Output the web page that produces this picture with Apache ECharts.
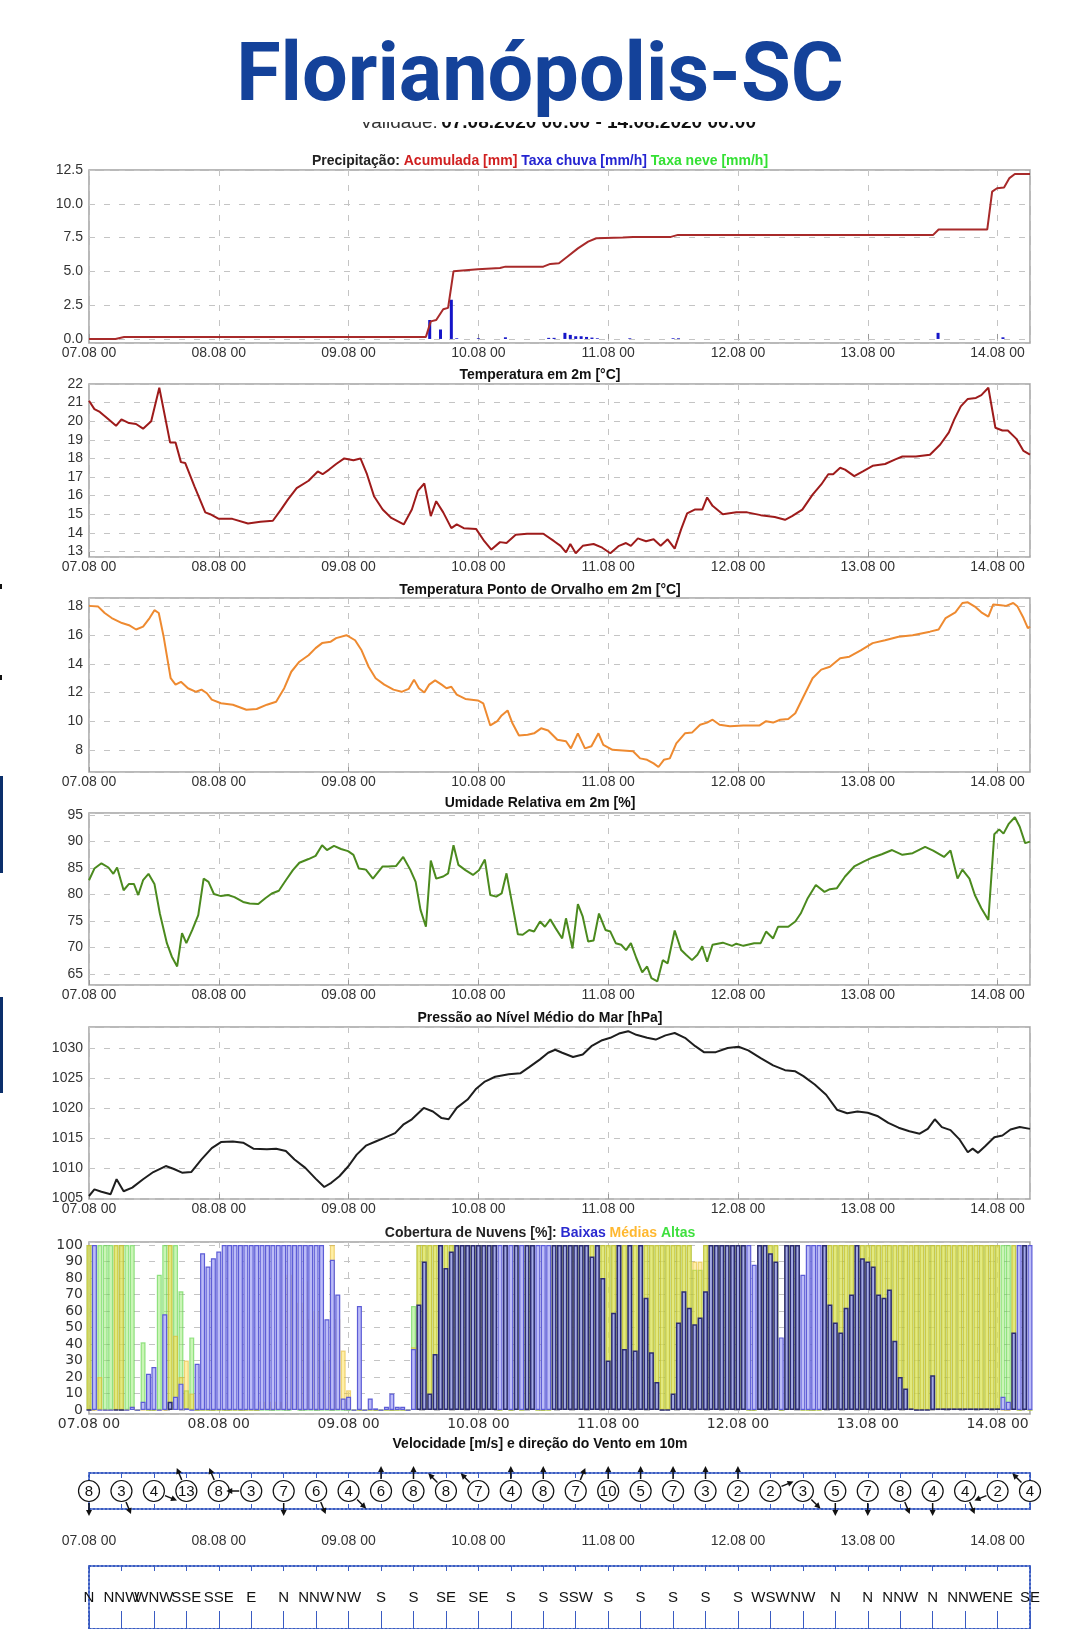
<!DOCTYPE html>
<html>
<head>
<meta charset="utf-8">
<script src="https://cdn.jsdelivr.net/npm/echarts@6/dist/echarts.min.js"></script>
<style>
html,body{margin:0;padding:0;background:#fff;}
#chart{width:1080px;height:1629px;}
</style>
</head>
<body>
<div id="chart"></div>
<script>
// ---- data (hours since 07.08 00) ----
var accPrecip = [[0,0],[4.9,0],[6.5,0.15],[62.3,0.15],[63.2,1.3],[64.2,1.4],[65.5,2.2],[66.4,2.3],[67.4,5.0],[71.9,5.15],[76,5.25],[77,5.35],[84,5.35],[85.3,5.55],[86.9,5.6],[88.5,6.1],[90.4,6.7],[92.3,7.2],[93.8,7.45],[98.7,7.5],[100.6,7.55],[107.6,7.55],[108.9,7.7],[156.1,7.7],[157.1,8.1],[166.1,8.1],[167,10.9],[167.9,11.15],[169.2,11.2],[170.2,11.9],[171.2,12.2],[174,12.2]];
var rainRate = [[63,1.4],[65,0.7],[67,2.9],[68,0.05],[72,0.05],[77,0.12],[85,0.08],[86,0.08],[88,0.45],[89,0.3],[90,0.2],[91,0.2],[92,0.15],[93,0.1],[94,0.05],[100,0.05],[108,0.05],[109,0.05],[157,0.45],[169,0.12]];

var temp2m = [[0,21.1],[1,20.65],[2,20.5],[3.6,20.1],[5,19.75],[6,20.1],[7.4,19.9],[8.7,19.85],[10,19.6],[11.5,20.0],[13,21.8],[13.3,21.9],[15,18.85],[16,18.85],[17,17.8],[17.8,17.75],[19.5,16.5],[21.5,15.1],[22.4,15.0],[24,14.75],[26.5,14.75],[29.4,14.5],[31.7,14.6],[34,14.65],[35.5,15.25],[36.8,15.8],[38.4,16.4],[40.6,16.8],[42.3,17.3],[43.2,17.15],[44.4,17.4],[45.7,17.7],[47.2,18.0],[48.9,17.9],[50.2,18.0],[51.4,17.15],[52.7,15.97],[54.3,15.25],[55.9,14.8],[58.2,14.45],[59.7,15.25],[60.8,16.25],[62,16.65],[63.2,14.9],[64.2,15.7],[65.5,15.1],[67,14.25],[68,14.45],[69.3,14.25],[71.6,14.2],[73.1,13.55],[74.4,13.1],[76,13.5],[77.2,13.45],[78.9,13.9],[81,13.95],[84,13.95],[86,13.55],[87.2,13.3],[88.2,12.95],[89,13.4],[90,12.9],[91.3,13.3],[93.3,13.4],[94.9,13.2],[96.4,12.9],[98,13.3],[99.3,13.45],[100.2,13.3],[101.5,13.7],[103,13.55],[104.4,13.65],[105.7,13.3],[107,13.65],[108.3,13.15],[109.5,14.2],[110.6,15.05],[112,15.25],[113.4,15.25],[114.3,15.9],[115.3,15.45],[117.2,15.0],[119.7,15.1],[121.7,15.1],[124.2,14.95],[126.8,14.85],[128.7,14.7],[130,14.9],[131.9,15.25],[133.8,16.05],[135.4,16.6],[136.7,17.15],[137.6,17.15],[138.9,17.5],[139.8,17.4],[141.5,17.05],[143.1,17.3],[144.9,17.6],[147.2,17.7],[149.1,17.95],[150.4,18.1],[152.9,18.1],[155.5,18.2],[157.4,18.75],[159,19.4],[160,20.1],[161.2,20.8],[162.5,21.2],[164,21.25],[165,21.4],[166.3,21.8],[167.6,19.65],[168.9,19.5],[169.9,19.5],[171.5,19.05],[172.8,18.4],[174,18.2]];

var dewPoint = [[0,18.05],[1.7,18.0],[2.9,17.55],[4.2,17.2],[6.1,16.85],[7.4,16.7],[8.7,16.4],[10,16.6],[11.2,17.2],[12.1,17.75],[12.9,17.55],[13.8,15.9],[15.1,13.0],[16,12.55],[17,12.75],[18.3,12.3],[19.8,12.05],[20.8,12.2],[21.8,11.95],[22.7,11.5],[24.4,11.25],[26.6,11.15],[29.1,10.8],[31,10.85],[32.9,11.15],[34.6,11.35],[36.1,12.3],[37.4,13.45],[38.9,14.15],[40.6,14.6],[41.9,15.1],[43.1,15.45],[44.7,15.55],[45.7,15.8],[47.6,16.0],[49.2,15.65],[50.4,14.95],[51.7,13.8],[53,13.0],[54.6,12.55],[56.3,12.2],[57.8,12.05],[59.1,12.25],[60.1,12.9],[61,12.3],[62,12.0],[62.9,12.55],[64,12.85],[65.2,12.55],[66.1,12.3],[67,12.4],[68,11.85],[69.6,11.55],[71.9,11.45],[72.9,11.25],[74.2,9.7],[75.5,10.0],[76.3,10.4],[77.4,10.75],[78.3,9.85],[79.5,9.0],[81.1,9.05],[82.3,9.15],[83.6,9.5],[84.9,9.35],[86.6,8.7],[88.2,8.6],[89.1,8.1],[90.4,9.15],[91.7,8.1],[92.9,8.25],[94.2,9.15],[95.1,8.35],[96.8,8.0],[98.7,7.95],[100.6,7.9],[101.9,7.4],[103.2,7.3],[104.4,7.05],[105.3,6.8],[106.3,7.3],[107.4,7.4],[108.6,8.45],[110.2,9.15],[111.5,9.2],[113,9.75],[114.3,9.9],[115.3,10.1],[116.6,9.75],[118.5,9.65],[121,9.7],[124,9.7],[125.2,10.0],[126.5,9.9],[127.8,10.1],[129.3,10.15],[130.6,10.55],[132.1,11.7],[133.8,13.0],[135.4,13.6],[137,13.8],[138.9,14.4],[140.6,14.5],[142.7,14.95],[144.9,15.45],[147.2,15.65],[149.7,15.9],[152.3,16.0],[155.5,16.25],[157.1,16.4],[158.4,17.2],[160.2,17.6],[161.5,18.25],[162.5,18.3],[163.8,18.0],[165,17.6],[166.3,17.3],[167.2,18.15],[168.6,18.1],[169.6,18.05],[170.9,18.25],[171.7,18.0],[172.8,17.2],[173.6,16.5],[174,16.6]];

var humidity = [[0,82.7],[1,84.9],[2.3,85.9],[3.6,85.1],[4.5,83.9],[5.2,85.1],[6.4,80.8],[7.4,82.0],[8.3,82.0],[9.1,79.9],[10,82.7],[11,83.9],[12.1,82.0],[13.1,76.4],[14.4,70.8],[15.3,68.3],[16.3,66.4],[17.2,72.7],[18,70.8],[19.1,73.3],[20.2,76.1],[21.2,83.0],[22.1,82.4],[23.1,80.1],[24.4,79.7],[25.7,79.9],[26.9,79.5],[28.5,78.6],[29.7,78.3],[31.3,78.2],[32.6,79.3],[33.8,80.2],[35.1,80.7],[36.4,82.7],[37.7,84.6],[38.9,86.0],[40.6,86.7],[41.9,87.3],[43.1,89.3],[44,88.4],[45.3,89.2],[46.6,88.6],[47.9,88.2],[48.9,87.5],[49.9,84.9],[51.2,84.7],[52.5,83.0],[54.3,85.3],[55.3,85.3],[56.8,85.4],[58.1,87.1],[59.4,84.7],[60.4,82.4],[61.3,77.1],[62.3,73.9],[63.2,86.4],[64.2,83.0],[65.5,83.4],[66.4,84.0],[67.4,89.3],[68.3,85.6],[69.6,84.6],[71,83.7],[72.1,84.6],[73.2,86.6],[74.2,79.9],[75.3,79.6],[76.3,80.2],[77.2,84.0],[78.3,78.0],[79.3,72.5],[80.2,72.4],[81.4,73.3],[82.3,73.0],[83.4,74.9],[84.3,73.9],[85.3,75.3],[86.3,73.6],[87.5,71.7],[88.2,75.5],[89.4,69.8],[90.4,78.2],[91.3,75.8],[92.3,71.1],[93.3,71.3],[94.3,76.4],[95.5,73.3],[96.4,73.0],[97.4,70.8],[98.4,70.5],[99.3,69.5],[100.2,70.8],[101.2,68.0],[102.3,65.3],[103.2,66.4],[104,64.2],[105.1,63.6],[106.1,67.6],[107,67.0],[108.3,73.2],[109.5,69.5],[110.4,68.6],[111.5,67.6],[112.5,68.6],[113.4,70.2],[114.3,67.3],[115.3,70.5],[117.2,70.9],[118.9,70.3],[119.7,70.7],[121,70.3],[123,70.8],[124.2,70.8],[125.2,73.0],[126.5,71.7],[127.4,73.9],[129.3,73.9],[130.6,74.9],[131.6,76.4],[132.9,79.3],[134.4,81.8],[136,80.5],[137,81.0],[138.3,81.2],[139.8,83.4],[141.5,85.3],[143.4,86.3],[144.9,87.0],[146.6,87.6],[148.5,88.4],[150.4,87.5],[152.3,87.8],[154.6,89.0],[156.1,88.3],[158.1,87.1],[159.3,88.3],[160.6,83.0],[161.5,84.7],[162.8,83.0],[163.8,79.9],[165,77.4],[166.3,75.2],[167.4,91.4],[168.3,92.3],[169.1,91.5],[170.1,93.4],[171.2,94.6],[172.1,92.8],[173.1,89.7],[174,90.0]];

var pressure = [[0,1005.3],[1,1006.4],[2.3,1006.0],[4,1005.6],[5.1,1008.1],[6.4,1006.1],[8,1006.7],[10,1008.1],[11.9,1009.3],[14.2,1010.3],[15.7,1009.8],[17.2,1009.2],[18.9,1009.3],[20.8,1011.4],[22.7,1013.3],[24.4,1014.3],[26.6,1014.4],[28.5,1014.2],[30.4,1013.2],[32.9,1013.1],[34.6,1013.2],[36.4,1012.8],[38,1011.4],[40,1010.0],[41.9,1008.2],[43.5,1006.8],[44.8,1007.5],[46.3,1008.6],[48,1010.3],[49.5,1012.2],[51.2,1013.7],[53,1014.4],[54.6,1015.0],[56.6,1015.8],[58.1,1017.2],[59.7,1018.1],[61.9,1020.0],[63.6,1019.4],[65.2,1018.3],[66.5,1018.1],[68,1020.0],[70,1021.4],[71.6,1023.2],[73.2,1024.4],[75.1,1025.2],[77.6,1025.6],[79.8,1025.8],[81.4,1026.8],[83.4,1028.1],[84.9,1029.2],[86.2,1029.7],[87.5,1029.2],[89.5,1028.5],[91.3,1028.9],[92.9,1030.3],[94.9,1031.3],[96.4,1031.7],[98,1032.4],[99.7,1032.8],[101.2,1032.2],[103.2,1031.7],[104.8,1031.4],[106.6,1032.1],[108.3,1032.5],[110.2,1031.7],[112.1,1030.3],[113.7,1029.3],[115.9,1029.3],[118.1,1030.0],[120.1,1030.2],[121.9,1029.6],[124.2,1028.3],[126.5,1027.1],[128.7,1026.3],[130.6,1026.1],[132.1,1025.3],[134.2,1023.9],[136.3,1022.2],[138.3,1019.7],[140.2,1019.1],[142.1,1019.4],[144,1019.2],[145.9,1018.6],[147.8,1017.5],[149.7,1016.7],[151.7,1016.1],[153.6,1015.7],[155.1,1016.5],[156.4,1018.1],[157.7,1016.8],[159.3,1016.3],[161,1014.7],[162.5,1012.6],[163.4,1013.2],[164.4,1012.5],[165.7,1013.6],[167.4,1015.1],[168.9,1015.4],[170.4,1016.4],[172.1,1016.8],[174,1016.5]];

// cloud cover [%], hourly from h0 to h174
var cloudLow = [
  0,100,0,0,0,0,0,0,2,0,5,22,26,0,58,5,8,16,1,0,28,95,87,92,
  96,100,100,100,100,100,100,100,100,100,100,100,100,100,100,100,100,100,100,100,55,91,70,7,
  8,0,63,0,7,1,0,2,10,2,2,0,37,64,90,10,34,100,86,96,100,100,100,100,
  100,100,100,100,100,100,100,100,100,100,100,100,100,100,100,100,100,100,100,100,100,93,100,80,
  30,59,100,37,100,36,100,68,35,17,0,0,10,53,72,62,52,56,72,100,100,100,100,100,
  100,100,100,88,100,100,95,90,44,100,100,100,82,100,100,100,100,64,53,47,62,70,100,92,
  90,87,70,68,73,42,20,13,1,0,0,0,21,1,1,1,1,1,1,1,1,1,1,1,
  1,8,5,47,100,100,100
];
var cloudMid = [
  100,0,20,0,0,100,100,0,2,0,0,0,0,0,0,100,45,20,30,10,0,0,0,0,
  0,0,0,0,0,0,0,0,5,5,5,5,5,82,20,65,78,55,60,30,30,100,55,36,
  12,0,0,0,0,0,0,0,0,0,0,0,38,100,100,100,100,100,100,100,100,100,100,100,
  100,100,100,100,0,100,0,100,0,100,100,0,0,0,100,100,100,100,100,100,100,100,100,100,
  100,100,100,100,100,100,100,100,100,100,100,100,100,100,100,100,90,90,100,100,100,100,100,100,
  100,100,0,0,100,100,100,100,0,100,100,100,0,0,0,0,100,100,100,100,100,100,100,100,
  100,100,100,100,100,100,100,100,100,100,100,100,100,100,100,100,100,100,100,100,100,100,100,100,
  100,0,0,100,0,100,0
];
var cloudHigh = [
  100,100,100,100,100,100,100,100,100,0,41,0,0,82,100,100,100,72,12,44,0,0,0,0,
  0,0,0,0,0,0,0,0,0,0,0,0,0,0,20,0,0,0,0,0,0,0,0,0,
  0,0,0,0,0,0,0,0,0,0,0,0,63,100,100,100,100,100,100,100,100,100,100,100,
  100,100,100,100,0,100,0,100,0,100,100,0,0,0,100,100,100,100,100,100,100,100,100,100,
  100,100,100,100,100,100,100,100,100,100,100,100,100,100,100,100,85,85,100,100,100,100,100,100,
  100,100,0,0,100,100,100,100,0,100,100,100,0,0,0,0,100,100,100,100,100,100,100,100,
  100,100,100,100,100,100,100,100,100,100,100,100,100,100,100,100,100,100,100,100,100,100,100,100,
  100,100,100,100,0,100,0
];

// wind every 6 h
var windHours = [0,6,12,18,24,30,36,42,48,54,60,66,72,78,84,90,96,102,108,114,120,126,132,138,144,150,156,162,168,174];
var windSpeeds = [8,3,4,13,8,3,7,6,4,6,8,8,7,4,8,7,10,5,7,3,2,2,3,5,7,8,4,4,2,4];
var windDirs = ['N','NNW','WNW','SSE','SSE','E','N','NNW','NW','S','S','SE','SE','S','S','SSW','S','S','S','S','S','WSW','NW','N','N','NNW','N','NNW','ENE','SE'];
var compass = {N:0,NNE:22.5,NE:45,ENE:67.5,E:90,ESE:112.5,SE:135,SSE:157.5,S:180,SSW:202.5,SW:225,WSW:247.5,W:270,WNW:292.5,NW:315,NNW:337.5};

// ---- chart ----
var myChart = echarts.init(document.getElementById('chart'));
var LIB = '"Liberation Sans", Arial, sans-serif';
var DJV = '"DejaVu Sans", sans-serif';

function dayLabel(v) {
    if (v % 24 !== 0) return '';
    var d = 7 + v / 24;
    return (d < 10 ? '0' : '') + d + '.08 00';
}

var panels = [
    {top: 170, height: 173},
    {top: 384, height: 173},
    {top: 598, height: 174},
    {top: 813, height: 172},
    {top: 1027, height: 172},
    {top: 1242, height: 172}
];

var grid = [], xAxis = [], yAxis = [];
panels.forEach(function (p, i) {
    var fam = i === 5 ? DJV : LIB;
    grid.push({left: 89, right: 50, top: p.top, height: p.height, show: true,
        borderColor: '#a3a3a3', borderWidth: 1.5, backgroundColor: 'transparent'});
    xAxis.push({
        type: 'value', gridIndex: i, min: 0, max: 174, interval: 24,
        axisLine: {show: false},
        axisTick: {show: true, inside: true, length: 5, lineStyle: {color: '#999'}},
        axisLabel: {formatter: dayLabel, showMaxLabel: false, fontSize: 14, fontFamily: fam, color: '#333', margin: 3},
        splitLine: {show: true, lineStyle: {color: '#c4c4c4', type: [6, 9]}}
    });
});

function yAx(i, min, max, step, dec) {
    return {
        type: 'value', gridIndex: i, min: min, max: max, minInterval: step, maxInterval: step,
        axisLine: {show: false}, axisTick: {show: false},
        axisLabel: {
            fontSize: 14, fontFamily: i === 5 ? DJV : LIB, color: '#333', margin: 6,
            formatter: function (v) {
                var k = v / step;
                if (Math.abs(k - Math.round(k)) > 1e-6) return '';
                return v.toFixed(dec);
            }
        },
        splitLine: {show: true, lineStyle: {color: '#c4c4c4', type: [6, 9]}}
    };
}
yAxis.push(yAx(0, -0.3, 12.5, 2.5, 1));
yAxis.push(yAx(1, 12.7, 22, 1, 0));
yAxis.push(yAx(2, 6.45, 18.6, 2, 0));
yAxis.push(yAx(3, 62.9, 95.4, 5, 0));
yAxis.push(yAx(4, 1004.8, 1033.5, 5, 0));
yAxis.push(yAx(5, -2.4, 101.8, 10, 0));

// wind grid (6) and direction grid (7)
var dotBlue = {color: '#3a5cc2', width: 2, type: [2, 2]};
grid.push({left: 89, right: 50, top: 1473, height: 36});
grid.push({left: 89, right: 50, top: 1566, height: 74});
// xAxis 6,7 -> grid 6 ; xAxis 8,9 -> grid 7 ; same for yAxis
[6, 7].forEach(function (g) {
    ['bottom', 'top'].forEach(function (pos) {
        xAxis.push({
            type: 'value', gridIndex: g, position: pos, min: 0, max: 174, interval: 6,
            axisLine: {show: true, onZero: false, lineStyle: dotBlue},
            axisTick: {show: true, inside: true, length: (g === 7 && pos === 'bottom') ? 18 : 5, lineStyle: {color: '#3a5cc2'}},
            axisLabel: {show: g === 6 && pos === 'bottom', formatter: dayLabel, fontSize: 14, fontFamily: LIB, color: '#333', margin: 25},
            splitLine: {show: false}
        });
    });
    ['left', 'right'].forEach(function (pos) {
        yAxis.push({
            type: 'value', gridIndex: g, position: pos, min: 0, max: 1,
            axisLine: {show: true, onZero: false, lineStyle: dotBlue}, axisTick: {show: false},
            axisLabel: {show: false}, splitLine: {show: false}
        });
    });
});

function idx(arr) { return arr.map(function (v, i) { return [i, v]; }); }
function cloudBar(name, data, fill, stroke) {
    return {
        name: name, type: 'bar', xAxisIndex: 5, yAxisIndex: 5, data: data,
        barWidth: 5, barGap: '-100%',
        itemStyle: {color: fill, borderColor: stroke, borderWidth: 1.2}
    };
}
// low-cloud bars look darker where they sit over the mid+high layers
var lowItems = cloudLow.map(function (v, i) {
    var over = cloudMid[i] >= 50 && cloudHigh[i] >= 50;
    return {value: [i, v], itemStyle: over
        ? {color: '#a4aae4', borderColor: '#2c2c72', borderWidth: 1.5}
        : {color: '#bcbcf7', borderColor: '#5c5cd6', borderWidth: 1.2}};
});
function lineS(ax, data, color) {
    return {type: 'line', xAxisIndex: ax, yAxisIndex: ax, data: data, showSymbol: false,
        lineStyle: {color: color, width: 2}, z: 3};
}

var windData = windHours.map(function (h, i) { return [h, windSpeeds[i], compass[windDirs[i]]]; });

var series = [
    {type: 'bar', xAxisIndex: 0, yAxisIndex: 0, data: rainRate, barWidth: 3, itemStyle: {color: '#1515c8'}},
    lineS(0, accPrecip, '#a82a2a'),
    lineS(1, temp2m, '#9e1b1b'),
    lineS(2, dewPoint, '#ee8a30'),
    lineS(3, humidity, '#4b8a1e'),
    lineS(4, pressure, '#1e1e1e'),
    cloudBar('Altas', idx(cloudHigh), 'rgba(150,235,110,0.5)', 'rgba(90,210,70,0.6)'),
    cloudBar('Médias', idx(cloudMid), 'rgba(255,220,60,0.45)', 'rgba(225,180,40,0.55)'),
    cloudBar('Baixas', lowItems, '#b2b6f2', '#4a4ab2'),
    {
        type: 'custom', xAxisIndex: 6, yAxisIndex: 6, data: windData, clip: false, z: 5,
        renderItem: function (params, api) {
            var c = api.coord([api.value(0), 0.5]);
            var t = (api.value(2) + 180) * Math.PI / 180;
            var dx = Math.sin(t), dy = -Math.cos(t);
            var a = [c[0] + dx * 12, c[1] + dy * 12], b = [c[0] + dx * 22, c[1] + dy * 22];
            var nx = -dy, ny = dx;
            var head = [[b[0] + dx * 3, b[1] + dy * 3], [b[0] - dx * 3 + nx * 3, b[1] - dy * 3 + ny * 3], [b[0] - dx * 3 - nx * 3, b[1] - dy * 3 - ny * 3]];
            return {type: 'group', children: [
                {type: 'line', shape: {x1: a[0], y1: a[1], x2: b[0], y2: b[1]}, style: {stroke: '#111', lineWidth: 1.5}},
                {type: 'polygon', shape: {points: head}, style: {fill: '#111'}},
                {type: 'circle', shape: {cx: c[0], cy: c[1], r: 10.5}, style: {fill: '#fff', stroke: '#111', lineWidth: 1.2}},
                {type: 'text', style: {x: c[0], y: c[1] + 1, text: String(api.value(1)), align: 'center', verticalAlign: 'middle', font: '15px ' + LIB, fill: '#111'}}
            ]};
        }
    },
    {
        type: 'custom', xAxisIndex: 8, yAxisIndex: 8, data: windHours.map(function (h) { return [h, 0.5]; }), clip: false, z: 5,
        renderItem: function (params, api) {
            var c = api.coord([api.value(0), api.value(1)]);
            return {type: 'text', style: {x: c[0], y: c[1], text: windDirs[params.dataIndex], align: 'center', verticalAlign: 'middle', font: '15px ' + LIB, fill: '#111'}};
        }
    }
];

function panelTitle(y, text, rich) {
    return {type: 'text', x: 540, y: y, z: 10,
        style: {text: text, rich: rich, align: 'center', verticalAlign: 'middle', font: 'bold 14px ' + LIB, fill: '#111'}};
}
function rc(col) { return {fill: col, fontFamily: 'Liberation Sans', fontWeight: 'bold', fontSize: 14}; }

var graphic = [
    {type: 'rect', shape: {x: 0, y: 776, width: 3, height: 97}, style: {fill: '#0b2f6b'}},
    {type: 'rect', shape: {x: 0, y: 997, width: 3, height: 96}, style: {fill: '#0b2f6b'}},
    {type: 'rect', shape: {x: 0, y: 584, width: 2, height: 5}, style: {fill: '#111'}},
    {type: 'rect', shape: {x: 0, y: 675, width: 2, height: 5}, style: {fill: '#111'}},
    {type: 'text', x: 558, y: 123, z: 1, style: {
        text: '{n|Validade:} {b|07.08.2020 00:00 - 14.08.2020 00:00}', align: 'center', verticalAlign: 'middle',
        rich: {n: {fontFamily: 'Liberation Sans', fontSize: 19, fill: '#333'}, b: {fontFamily: 'Liberation Sans', fontSize: 19, fontWeight: 'bold', fill: '#111'}}}},
    {type: 'rect', z: 2, shape: {x: 300, y: 0, width: 520, height: 122}, style: {fill: '#fff'}},
    {type: 'text', x: 540, y: 80, z: 3, style: {text: 'Florianópolis-SC', align: 'center', verticalAlign: 'middle',
        font: 'bold 81px Roboto, "Liberation Sans", sans-serif', fill: '#14429a'}},
    panelTitle(161, '{k|Precipitação:} {r|Acumulada [mm]} {b|Taxa chuva [mm/h]} {g|Taxa neve [mm/h]}',
        {k: rc('#222'), r: rc('#d02020'), b: rc('#2424d0'), g: rc('#33e033')}),
    panelTitle(375, 'Temperatura em 2m [°C]'),
    panelTitle(590, 'Temperatura Ponto de Orvalho em 2m [°C]'),
    panelTitle(803, 'Umidade Relativa em 2m [%]'),
    panelTitle(1018, 'Pressão ao Nível Médio do Mar [hPa]'),
    panelTitle(1233, '{k|Cobertura de Nuvens [%]:} {b|Baixas} {o|Médias} {g|Altas}',
        {k: rc('#222'), b: rc('#2a2ad0'), o: rc('#ffb830'), g: rc('#3ee03e')}),
    panelTitle(1444, 'Velocidade [m/s] e direção do Vento em 10m')
];

var option = {
    animation: false,
    backgroundColor: '#fff',
    grid: grid,
    xAxis: xAxis,
    yAxis: yAxis,
    series: series,
    graphic: graphic
};
myChart.setOption(option);
</script>
</body>
</html>
